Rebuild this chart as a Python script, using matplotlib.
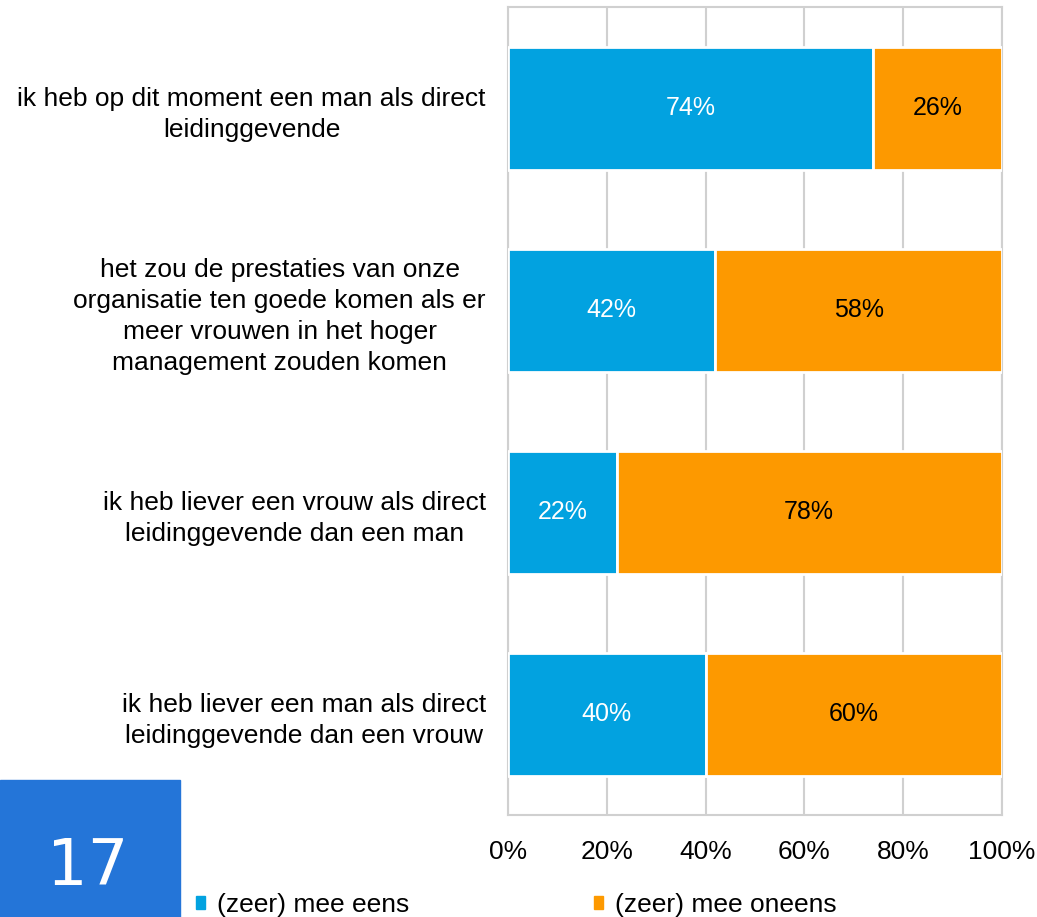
import matplotlib.pyplot as plt
import matplotlib.patches as mpatches
import numpy as np

plt.rcParams['font.family'] = ['Liberation Sans', 'DejaVu Sans']

# Stellingen en percentages
stellingen = [
    'ik heb op dit moment een man als direct\nleidinggevende',
    'het zou de prestaties van onze\norganisatie ten goede komen als er\nmeer vrouwen in het hoger\nmanagement zouden komen',
    'ik heb liever een vrouw als direct\nleidinggevende dan een man',
    'ik heb liever een man als direct\nleidinggevende dan een vrouw',
]
mee_eens = [74, 42, 22, 40]
mee_oneens = [26, 58, 78, 60]
series_namen = ['(zeer) mee eens', '(zeer) mee oneens']
xticks = [0, 20, 40, 60, 80, 100]
pagina = '17'

kleur_blauw = '#02A2E0'
kleur_oranje = '#FD9900'
kleur_grid = '#D0D0D0'

fig = plt.figure(figsize=(10.37, 9.17), dpi=100)
ax = fig.add_axes([0.490, 0.111, 0.476, 0.881])

y = np.arange(len(stellingen))
b1 = ax.barh(y, mee_eens, height=0.61, color=kleur_blauw, edgecolor='white', linewidth=2, zorder=3)
b2 = ax.barh(y, mee_oneens, left=mee_eens, height=0.61, color=kleur_oranje, edgecolor='white', linewidth=2, zorder=3)

for i in range(len(stellingen)):
    ax.text(mee_eens[i] / 2, y[i], f'{mee_eens[i]}%', ha='center', va='center',
            color='white', fontsize=18, zorder=4)
    ax.text(mee_eens[i] + mee_oneens[i] / 2, y[i], f'{mee_oneens[i]}%', ha='center', va='center',
            color='black', fontsize=18, zorder=4)

ax.set_xlim(0, 100)
ax.set_ylim(len(stellingen) - 0.5, -0.5)
ax.set_xticks(xticks)
ax.set_xticklabels([f'{t}%' for t in xticks], fontsize=19)
ax.set_yticks(y)
ax.set_yticklabels(stellingen, fontsize=19, multialignment='center', linespacing=1.37)
ax.tick_params(axis='both', length=0)
ax.tick_params(axis='y', pad=16)
ax.tick_params(axis='x', pad=18)
ax.xaxis.grid(True, color=kleur_grid, linewidth=1.5, zorder=0)
for s in ax.spines.values():
    s.set_color(kleur_grid)
    s.set_linewidth(1.5)

# paginanummer
box = mpatches.Rectangle((0, 0), 180 / 1037, 137 / 917, transform=fig.transFigure,
                         color='#2475D8', zorder=0)
fig.patches.append(box)
fig.text(88 / 1037, 50 / 917, pagina, ha='center', va='center', color='white',
         fontsize=46, family='DejaVu Sans')

# legenda
h1 = mpatches.Patch(color=kleur_blauw)
h2 = mpatches.Patch(color=kleur_oranje)
fig.legend([h1, h2], series_namen, loc='center left', bbox_to_anchor=(196 / 1037, 1 - 905 / 917),
           ncol=2, frameon=False, fontsize=19, handlelength=0.35, handleheight=0.35,
           handletextpad=0.45, columnspacing=7.0, borderpad=0, borderaxespad=0)

fig.savefig('out.png', dpi=100)
